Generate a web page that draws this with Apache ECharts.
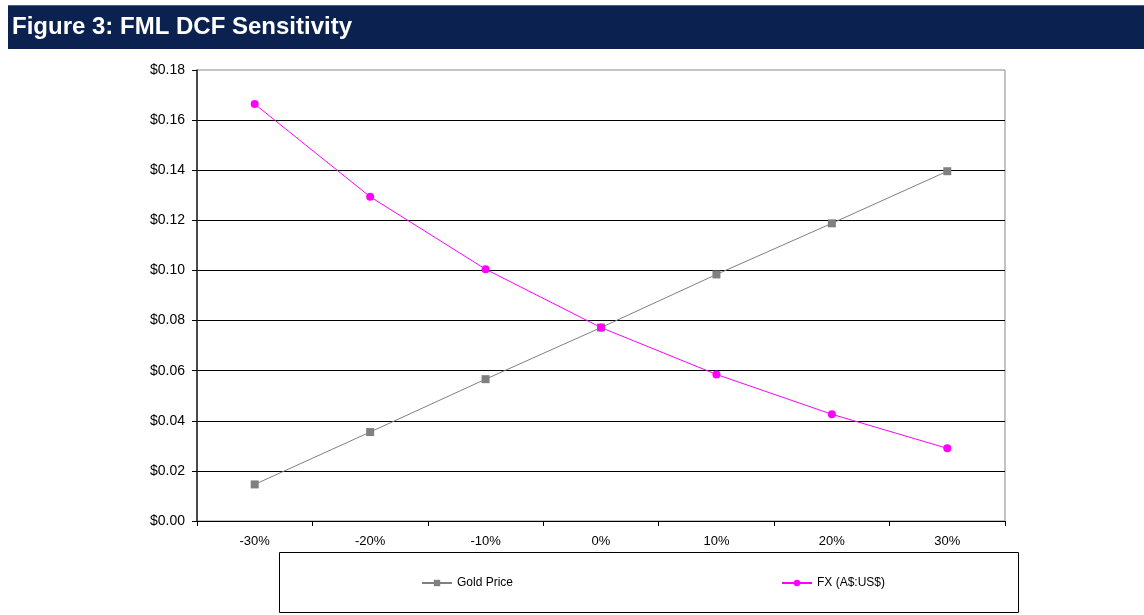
<!DOCTYPE html>
<html>
<head>
<meta charset="utf-8">
<script src="https://cdn.jsdelivr.net/npm/echarts@6/dist/echarts.min.js"></script>
<style>
  html, body { margin: 0; padding: 0; background: #fff; }
  #chart { width: 1144px; height: 615px; }
</style>
</head>
<body>
<div id="chart"></div>
<script>
// sensitivity steps on the x axis
const categories = ['-30%', '-20%', '-10%', '0%', '10%', '20%', '30%'];
// valuation per share (A$)
const goldPrice = [0.0146, 0.0355, 0.0566, 0.0772, 0.0984, 0.1188, 0.1396];
const fxRate = [0.1664, 0.1294, 0.1005, 0.0772, 0.0585, 0.0426, 0.0290];

const chart = echarts.init(document.getElementById('chart'));
const font = 'Arial, "Liberation Sans", sans-serif';

chart.setOption({
    animation: false,
    backgroundColor: '#fff',
    graphic: [
        {
            type: 'rect',
            shape: { x: 8, y: 5, width: 1136, height: 44 },
            style: { fill: '#0b2150' }
        },
        {
            type: 'rect',
            shape: { x: 8, y: 5, width: 1136, height: 1 },
            style: { fill: '#4a5f86' }
        },
        {
            type: 'text',
            left: 12,
            top: 15,
            style: {
                text: 'Figure 3: FML DCF Sensitivity',
                fill: '#fff',
                font: 'bold 24px ' + font
            }
        },
        {
            type: 'rect',
            shape: { x: 279.5, y: 552.5, width: 739, height: 60 },
            style: { fill: 'none', stroke: '#000', lineWidth: 1 }
        }
    ],
    grid: {
        left: 197,
        right: 139,
        top: 70,
        bottom: 94,
        show: true,
        borderColor: '#888',
        borderWidth: 1
    },
    legend: [
        {
            data: ['Gold Price'],
            left: 416,
            top: 572,
            itemWidth: 30,
            itemHeight: 8,
            textStyle: { fontFamily: font, fontSize: 12, color: '#000' }
        },
        {
            data: ['FX (A$:US$)'],
            left: 776,
            top: 572,
            itemWidth: 30,
            itemHeight: 8,
            textStyle: { fontFamily: font, fontSize: 12, color: '#000' }
        }
    ],
    xAxis: {
        type: 'category',
        data: categories,
        boundaryGap: true,
        axisLine: { lineStyle: { color: '#000', width: 1 } },
        axisTick: { show: true, length: 5, lineStyle: { color: '#000' } },
        axisLabel: { fontFamily: font, fontSize: 13, color: '#000', margin: 14 }
    },
    yAxis: {
        type: 'value',
        min: 0,
        max: 0.18,
        interval: 0.02,
        axisLine: { show: true, lineStyle: { color: '#222', width: 1.5 } },
        axisTick: { show: true, length: 5, lineStyle: { color: '#000' } },
        axisLabel: {
            fontFamily: font,
            fontSize: 14,
            color: '#000',
            margin: 12,
            formatter: v => '$' + v.toFixed(2)
        },
        splitLine: {
            show: true,
            showMaxLine: false,
            lineStyle: { color: '#000', width: 1 }
        }
    },
    series: [
        {
            name: 'Gold Price',
            type: 'line',
            data: goldPrice,
            symbol: 'rect',
            symbolSize: 8,
            itemStyle: { color: '#808080' },
            lineStyle: { color: '#808080', width: 1 }
        },
        {
            name: 'FX (A$:US$)',
            type: 'line',
            data: fxRate,
            symbol: 'circle',
            symbolSize: 8,
            itemStyle: { color: '#ff00ff' },
            lineStyle: { color: '#ff00ff', width: 1 }
        }
    ]
});
</script>
</body>
</html>
